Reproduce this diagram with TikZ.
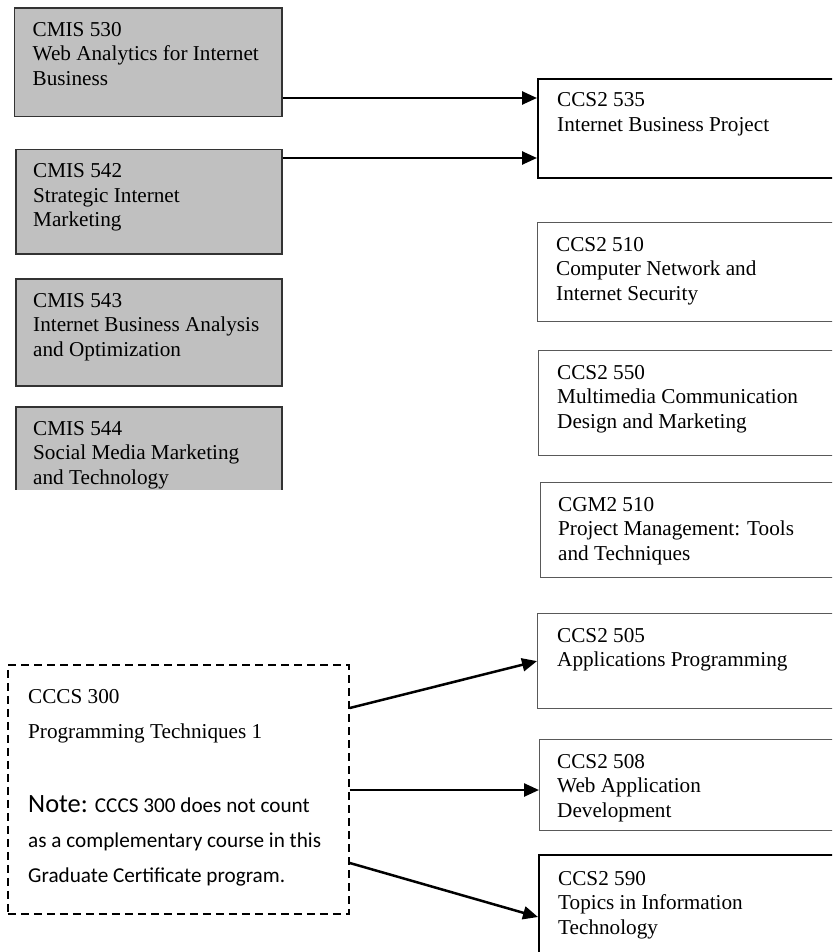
\documentclass[tikz,border=0pt]{standalone}
\usepackage{fontspec}
\setmainfont{Liberation Serif}
\newfontfamily\calib{Carlito}
\usetikzlibrary{arrows.meta,calc}
\definecolor{grayfill}{HTML}{C0C0C0}
\begin{document}
\begin{tikzpicture}[x=1pt,y=-1pt,
  cbox/.style={draw=black!80,line width=1.5pt,fill=grayfill,anchor=north west,inner sep=0pt},
  wbox/.style={draw=black!65,line width=1.2pt,fill=white,anchor=north west,inner sep=0pt},
  kbox/.style={draw=black,line width=2pt,fill=white,anchor=north west,inner sep=0pt},
  lbl/.style={anchor=base west,inner sep=0pt,font=\fontsize{21.2pt}{24.5pt}\selectfont},
  arr/.style={line width=2.5pt,-{Triangle[length=15pt,width=13pt]}}]
\useasboundingbox (0,0) rectangle (832,952);
\clip (0,0) rectangle (832,952);

% left grey boxes
\node[cbox,minimum width=267.5pt,minimum height=108.5pt] (m530) at (13.5,7.5) {};
\node[lbl] (t530) at ($(m530.north west)+(19,29)$) {\begin{tabular}[t]{@{}l@{}}CMIS 530\\Web Analytics for Internet\\Business\end{tabular}};

\node[cbox,minimum width=266pt,minimum height=104pt] (m542) at (15,149) {};
\node[lbl] (t542) at ($(m542.north west)+(18,29)$) {\begin{tabular}[t]{@{}l@{}}CMIS 542\\Strategic Internet\\Marketing\end{tabular}};

\node[cbox,minimum width=266pt,minimum height=107pt] (m543) at (15,278) {};
\node[lbl] (t543) at ($(m543.north west)+(18,29)$) {\begin{tabular}[t]{@{}l@{}}CMIS 543\\Internet Business Analysis\\and Optimization\end{tabular}};

\begin{scope}
\clip (0,0) rectangle (832,489);
\node[cbox,minimum width=266pt,minimum height=120pt] (m544) at (15,406) {};
\node[lbl] (t544) at ($(m544.north west)+(18,29)$) {\begin{tabular}[t]{@{}l@{}}CMIS 544\\Social Media Marketing\\and Technology\end{tabular}};
\end{scope}

% right boxes
\node[kbox,minimum width=313pt,minimum height=99pt] (c535) at (537,78) {};
\node[lbl] (t535) at ($(c535.north west)+(20,29)$) {\begin{tabular}[t]{@{}l@{}}CCS2 535\\Internet Business Project\end{tabular}};

\node[wbox,minimum width=313pt,minimum height=99pt] (c510) at (537,222) {};
\node[lbl] (t510) at ($(c510.north west)+(19,29)$) {\begin{tabular}[t]{@{}l@{}}CCS2 510\\Computer Network and\\Internet Security\end{tabular}};

\node[wbox,minimum width=312pt,minimum height=105pt] (c550) at (538,350) {};
\node[lbl] (t550) at ($(c550.north west)+(19,29)$) {\begin{tabular}[t]{@{}l@{}}CCS2 550\\Multimedia Communication\\Design and Marketing\end{tabular}};

\node[wbox,minimum width=310pt,minimum height=95pt] (g510) at (540,482) {};
\node[lbl] (tg510) at ($(g510.north west)+(18,29)$) {\begin{tabular}[t]{@{}l@{}}CGM2 510\\Project Management: Tools\\and Techniques\end{tabular}};

\node[wbox,minimum width=313pt,minimum height=95pt] (c505) at (537,613) {};
\node[lbl] (t505) at ($(c505.north west)+(20,29)$) {\begin{tabular}[t]{@{}l@{}}CCS2 505\\Applications Programming\end{tabular}};

\node[wbox,minimum width=311pt,minimum height=91pt] (c508) at (539,739) {};
\node[lbl] (t508) at ($(c508.north west)+(18,29)$) {\begin{tabular}[t]{@{}l@{}}CCS2 508\\Web Application\\Development\end{tabular}};

\node[kbox,minimum width=312pt,minimum height=130pt] (c590) at (538,854) {};
\node[lbl] (t590) at ($(c590.north west)+(20,31)$) {\begin{tabular}[t]{@{}l@{}}CCS2 590\\Topics in Information\\Technology\end{tabular}};

% dashed box
\node[draw=black,line width=1.8pt,dash pattern=on 8pt off 5pt,fill=white,anchor=north west,inner sep=0pt,minimum width=341pt,minimum height=249pt] (dash) at (7,664) {};
\node[anchor=base west,inner sep=0pt,font=\fontsize{21.2pt}{35.5pt}\selectfont] (tdash1) at ($(dash.north west)+(21,39)$) {\begin{tabular}[t]{@{}l@{}}CCCS 300\\Programming Techniques 1\end{tabular}};
\node[anchor=base west,inner sep=0pt,font=\calib\fontsize{21.2pt}{35pt}\selectfont] (tdash2) at ($(dash.north west)+(21,148)$) {\begin{tabular}[t]{@{}l@{}}{\fontsize{26.4pt}{35pt}\selectfont Note:}\hspace{7pt}CCCS 300 does not count\\as a complementary course in this\\Graduate Certificate program.\end{tabular}};

% connectors
\coordinate (p1) at (0,98);
\coordinate (p2) at (0,158);
\coordinate (q1) at (0,708);
\coordinate (q2) at (0,790);
\coordinate (q3) at (0,863);
\coordinate (q4) at (0,917);
\draw[arr] (m530.east |- p1) -- (c535.west |- p1);
\draw[arr] (m542.east |- p2) -- (c535.west |- p2);
\draw[arr] (dash.east |- q1) -- (c505.west);
\draw[arr] (dash.east |- q2) -- (c508.west |- q2);
\draw[arr] (dash.east |- q3) -- (c590.west |- q4);
\end{tikzpicture}
\end{document}
